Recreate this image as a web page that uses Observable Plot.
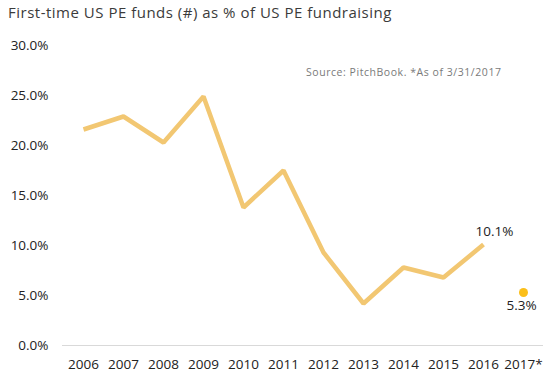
<!DOCTYPE html>
<html>
<head>
<meta charset="utf-8">
<script src="https://cdn.jsdelivr.net/npm/d3@7"></script>
<script src="https://cdn.jsdelivr.net/npm/@observablehq/plot@0.6"></script>
<style>
  html, body { margin: 0; padding: 0; background: #fff; }
  #wrap { width: 551px; height: 382px; position: relative; overflow: hidden; }
  #title { height: 28px; box-sizing: border-box; padding: 2px 0 0 8px; font-family: 'Open Sans', sans-serif; font-size: 15px; letter-spacing: 0.5px; color: #3b3b3b; white-space: nowrap; }
</style>
</head>
<body>
<div id="wrap">
  <div id="title">First-time US PE funds (#) as % of US PE fundraising</div>
  <div id="chart"></div>
</div>
<script>
const years = ["2006","2007","2008","2009","2010","2011","2012","2013","2014","2015","2016","2017*"];
const lineYears = ["2006","2007","2008","2009","2010","2011","2012","2013","2014","2015","2016"];
const lineValues = [21.6, 22.9, 20.3, 24.9, 13.8, 17.5, 9.3, 4.2, 7.8, 6.8, 10.1];
const ytdYear = "2017*";
const ytdValue = 5.3;
const yTicks = [0, 5, 10, 15, 20, 25, 30];
const sourceNote = "Source: PitchBook. *As of 3/31/2017";

const lineData = lineYears.map((y, i) => ({year: y, value: lineValues[i]}));
const lastPoint = lineData[lineData.length - 1];
const ytdData = [{year: ytdYear, value: ytdValue}];
const fmt = d => d.toFixed(1) + "%";

const chart = Plot.plot({
  width: 551,
  height: 354,
  marginLeft: 62,
  marginRight: 8,
  marginTop: 17,
  marginBottom: 37,
  style: {fontFamily: "'Open Sans', sans-serif", fontSize: "13.5px", color: "#222", background: "#fff"},
  x: {type: "point", domain: years, padding: 0.5, label: null, tickSize: 0, tickPadding: 14},
  y: {domain: [0, 30], ticks: yTicks, tickFormat: fmt, label: null, tickSize: 0, tickPadding: 14},
  marks: [
    Plot.ruleY([0], {stroke: "#d9d9d9", strokeWidth: 1}),
    Plot.line(lineData, {x: "year", y: "value", stroke: "#f2c772", strokeWidth: 4.5, strokeLinejoin: "miter", strokeLinecap: "butt"}),
    Plot.dot(ytdData, {x: "year", y: "value", r: 4.5, fill: "#fbbf1a", stroke: null}),
    Plot.text([lastPoint], {x: "year", y: "value", text: d => fmt(d.value), dx: 11, dy: -13, fontSize: 13.5, fill: "#222"}),
    Plot.text(ytdData, {x: "year", y: "value", text: d => fmt(d.value), dx: -2, dy: 13, fontSize: 13.5, fill: "#222"}),
    Plot.text([sourceNote], {frameAnchor: "top-right", dx: -42, dy: 23, fontFamily: "'Open Sans', sans-serif", fontSize: 10.5, fill: "#7a7a7a"})
  ]
});
d3.select(chart).selectAll("text")
  .filter(function() { return this.textContent === sourceNote; })
  .style("letter-spacing", "0.55px");
document.getElementById("chart").appendChild(chart);
</script>
</body>
</html>
